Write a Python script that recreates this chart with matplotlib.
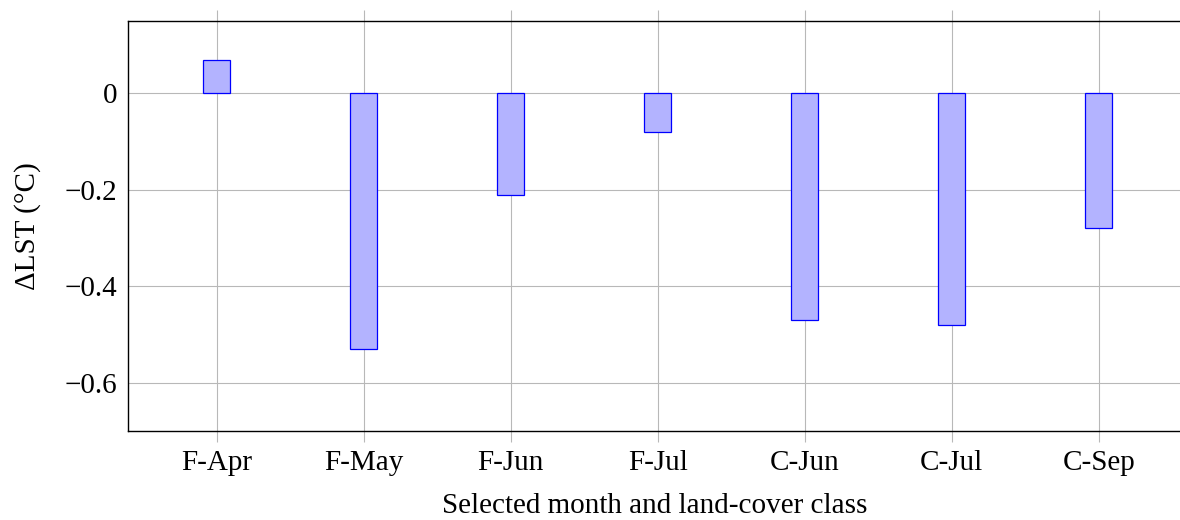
import matplotlib
matplotlib.use("Agg")
import matplotlib.pyplot as plt

plt.rcParams["font.family"] = ["Liberation Serif", "DejaVu Serif"]
plt.rcParams["axes.unicode_minus"] = True

# ── Data ────────────────────────────────────────────────────────────────────
categories = ["F-Apr", "F-May", "F-Jun", "F-Jul", "C-Jun", "C-Jul", "C-Sep"]
delta_lst = [0.07, -0.53, -0.21, -0.08, -0.47, -0.48, -0.28]
yticks = [0, -0.2, -0.4, -0.6]

fig = plt.figure(figsize=(11.8, 5.2), dpi=100)
ax = fig.add_axes([0.1087, 0.1717, 0.893, 0.7879])

x = list(range(len(categories)))
ax.bar(x, delta_lst, width=0.184, color="#b3b3ff", edgecolor="#0000ff",
       linewidth=0.9, zorder=3)

ax.set_xlim(-0.601, 6.567)
ax.set_ylim(-0.7, 0.15)
ax.set_xticks(x)
ax.set_xticklabels(categories, fontsize=21)
ax.set_yticks(yticks)
ax.set_yticklabels(["0" if v == 0 else f"\u2212{abs(v):.1f}" for v in yticks],
                   fontsize=21)
ax.tick_params(axis="y", length=0, pad=8)
ax.tick_params(axis="x", direction="out", length=8, width=0.8,
               color="#b8b8b8", top=True, pad=6)
ax.grid(True, color="#b8b8b8", linewidth=0.8, zorder=0)
for s in ax.spines.values():
    s.set_linewidth(1.0)

ax.set_ylabel("\u0394LST (\u00b0C)", fontsize=21)
ax.set_xlabel("Selected month and land-cover class", fontsize=21, labelpad=12)
ax.yaxis.set_label_coords(-0.083, 0.5)

fig.savefig("out.png", dpi=100)
plt.close(fig)
